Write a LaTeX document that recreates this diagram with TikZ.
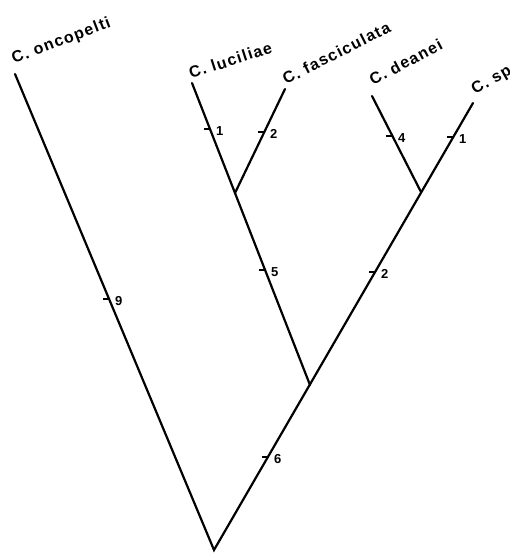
\documentclass[tikz,border=0pt]{standalone}
\usepackage{fontspec}
\setmainfont{Liberation Sans}
\newfontfamily\taxfont[LetterSpace=8]{Liberation Sans}
\begin{document}
\begin{tikzpicture}[x=1pt,y=-1pt,
  branch/.style={line width=2.2pt, line cap=round},
  tick/.style={line width=1.4pt},
  taxon/.style={anchor=base west, inner sep=0pt, font=\taxfont\fontsize{16}{16}\selectfont\bfseries},
  num/.style={anchor=west, inner sep=0pt, font=\fontsize{13}{13}\selectfont\bfseries}]
\useasboundingbox (0,0) rectangle (509,556);
% coordinates
\coordinate (root) at (214,550);
\coordinate (onc) at (15,74);
\coordinate (A) at (310,385);
\coordinate (B) at (235,193);
\coordinate (luc) at (192,83);
\coordinate (fas) at (285,89);
\coordinate (C) at (421,192);
\coordinate (dea) at (372,96);
\coordinate (sp) at (473,103);
% branches
\draw[branch] (onc) -- (root) -- (sp);
\draw[branch] (A) -- (luc);
\draw[branch] (B) -- (fas);
\draw[branch] (C) -- (dea);
% ticks and numbers
\foreach \nm/\x/\y/\t in {t9/109/299/9, t6/268/457/6, t2m/375/272/2, t1s/453/137/1, t5/265/270/5, t1l/210/129/1, t2f/264/132/2, t4/392/136/4}{
  \coordinate (\nm) at (\x,\y);
  \draw[tick] ([xshift=-6]\nm) -- ([xshift=1]\nm);
  \node[num] (\nm l) at ([xshift=6,yshift=-2]\nm) {\t};
}
% taxon labels
\node[taxon, rotate=21] (lonc) at (14,64) {C. oncopelti};
\node[taxon, rotate=18] (lluc) at (191,79) {C. luciliae};
\node[taxon, rotate=27] (lfas) at (286,85) {C. fasciculata};
\node[taxon, rotate=28] (ldea) at (373,86) {C. deanei};
\node[taxon, rotate=30] (lsp) at (475,95) {C. sp};
\end{tikzpicture}
\end{document}
